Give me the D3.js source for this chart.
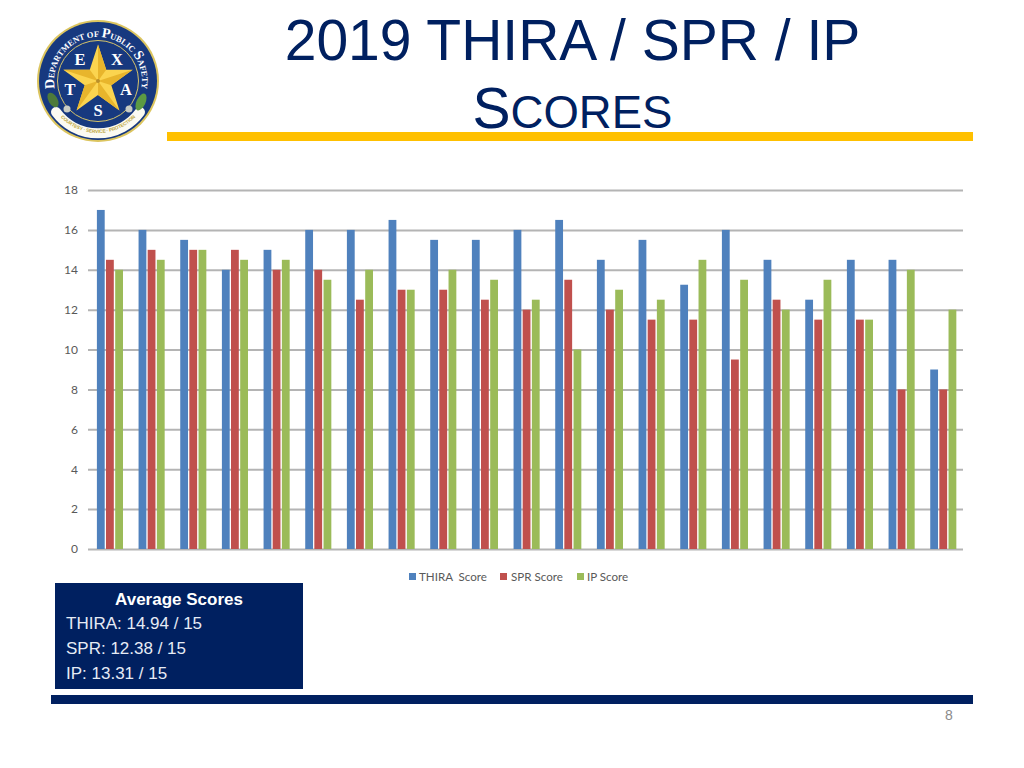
<!DOCTYPE html>
<html><head><meta charset="utf-8">
<script src="https://cdn.jsdelivr.net/npm/d3@7/dist/d3.min.js"></script>
<style>
html,body{margin:0;padding:0;background:#fff}
svg{display:block}
</style></head><body>
<svg id="c" width="1024" height="768"></svg>
<script>
const thira=[17,16,15.5,14,15,16,16,16.5,15.5,15.5,16,16.5,14.5,15.5,13.25,16,14.5,12.5,14.5,14.5,9];
const spr=[14.5,15,15,15,14,14,12.5,13,13,12.5,12,13.5,12,11.5,11.5,9.5,12.5,11.5,11.5,8,8];
const ip=[14,14.5,15,14.5,14.5,13.5,14,13,14,13.5,12.5,10,13,12.5,14.5,13.5,12,13.5,11.5,14,12];
const seriesNames=["THIRA  Score","SPR Score","IP Score"];
const seriesColors=["#4f81bd","#c0504d","#9bbb59"];
const yTicks=[0,2,4,6,8,10,12,14,16,18];
const averages=["THIRA: 14.94 / 15","SPR: 12.38 / 15","IP: 13.31 / 15"];
const navy="#002060", gold="#ffc000";

const svg=d3.select("#c");
const sans="'Liberation Sans',Arial,sans-serif", cal="Lato,'Open Sans',sans-serif", serif="'Liberation Serif',serif";

// title
const t=svg.append("g").attr("fill",navy).attr("font-family",sans).attr("text-anchor","middle");
t.append("text").attr("x",572.5).attr("y",60).attr("font-size",57).text("2019 THIRA / SPR / IP");
const t2=t.append("text").attr("x",572.5).attr("y",128).attr("font-size",57);
t2.append("tspan").text("S");
t2.append("tspan").attr("font-size",45.5).text("CORES");

// rules
svg.append("rect").attr("x",167).attr("y",132).attr("width",806).attr("height",9).attr("fill",gold);
svg.append("rect").attr("x",51).attr("y",695).attr("width",922).attr("height",9).attr("fill",navy);
svg.append("text").attr("x",949).attr("y",720).attr("text-anchor","middle").attr("font-family",sans)
  .attr("font-size",14).attr("fill","#8b8b8b").text("8");

// chart
const x=d3.scaleBand().domain(d3.range(thira.length)).range([88,963]);
const y=d3.scaleLinear().domain([0,18]).range([549,190]);

const axis=svg.append("g").attr("transform","translate(88,0)")
  .call(d3.axisLeft(y).tickValues(yTicks).tickSize(-875).tickPadding(10));
axis.select(".domain").remove();
axis.selectAll("line").attr("stroke","#b4b4b4").attr("stroke-width",2);
axis.selectAll("text").attr("font-family",cal).attr("font-size",12).attr("fill","#595959");

const barW=7.8, offs=[8.9,18,27.2];
[thira,spr,ip].forEach((vals,s)=>{
  svg.append("g").selectAll("rect").data(vals).join("rect")
    .attr("x",(d,i)=>x(i)+offs[s])
    .attr("width",barW)
    .attr("y",d=>y(d))
    .attr("height",d=>y(0)-y(d))
    .attr("fill",seriesColors[s]);
});

// legend
const lx=[409,500,577], tx=[419,511,587];
const leg=svg.append("g").attr("font-family",cal).attr("font-size",11.6).attr("fill","#595959");
seriesNames.forEach((n,i)=>{
  leg.append("rect").attr("x",lx[i]).attr("y",573).attr("width",7).attr("height",7).attr("fill",seriesColors[i]);
  leg.append("text").attr("x",tx[i]).attr("y",580.5).style("white-space","pre").text(n);
});

// average box
svg.append("rect").attr("x",55).attr("y",583).attr("width",248).attr("height",106).attr("fill",navy);
const box=svg.append("g").attr("font-family",sans).attr("font-size",17).attr("fill","#fff");
box.append("text").attr("x",179).attr("y",605).attr("text-anchor","middle").attr("font-weight","bold").text("Average Scores");
box.selectAll(".l").data(averages).join("text").attr("class","l").attr("x",66).attr("y",(d,i)=>629+i*25).attr("fill","#e6ebf5").text(d=>d);

// logo
const logo=svg.append("g").attr("transform","translate(98,81)");
logo.append("circle").attr("r",61).attr("fill","#dcc55f");
logo.append("circle").attr("r",59).attr("fill","#17397f");
logo.append("circle").attr("r",40.5).attr("fill","none").attr("stroke","#d6c46a").attr("stroke-width",1);
const starPts=(R,r)=>d3.range(10).map(i=>{const a=-Math.PI/2+i*Math.PI/5,q=i%2?r:R;return [q*Math.cos(a),q*Math.sin(a)];});
const pts=starPts(36.5,14);
logo.append("polygon").attr("points",pts.map(p=>p.join(",")).join(" ")).attr("fill","#fbd44f");
d3.range(0,10,2).forEach(i=>{
  const a=pts[i],b=pts[(i+1)%10];
  logo.append("polygon").attr("points",`0,0 ${a} ${b}`).attr("fill","#e8b52c");
});
logo.append("circle").attr("r",2).attr("fill","#b98f2a");
const ser=logo.append("g").attr("font-family",serif).attr("font-weight","bold").attr("font-size",16.5).attr("fill","#fff").attr("text-anchor","middle");
[["E",-18,-16],["X",19,-16],["T",-28,14],["A",28,14],["S",0,35]].forEach(([c,a,b])=>ser.append("text").attr("x",a).attr("y",b).text(c));

// ribbon, leaves, rosettes
logo.append("path").attr("d","M-42,31 A52,52 0 0 0 42,31").attr("fill","none").attr("stroke","#fbfaf2").attr("stroke-width",10).attr("stroke-linecap","round");
logo.append("ellipse").attr("cx",-45).attr("cy",19).attr("rx",4.5).attr("ry",8).attr("transform","rotate(-30 -45 19)").attr("fill","#4d7a3a");
logo.append("ellipse").attr("cx",43).attr("cy",21).attr("rx",4.5).attr("ry",9).attr("transform","rotate(25 43 21)").attr("fill","#5c9a43");
[-31,31].forEach(d=>logo.append("circle").attr("cx",d).attr("cy",28).attr("r",3.5).attr("fill","#c9ccc4"));

// lettering set one glyph at a time around an arc
function arcLetters(parts,radius,fromDeg,toDeg,inward,attrs){
  const g=logo.append("g").attr("text-anchor","middle");
  Object.entries(attrs).forEach(([k,v])=>g.attr(k,v));
  const items=[];
  parts.forEach(([str,size])=>[...str].forEach(ch=>{
    const el=g.append("text").attr("font-size",size).text(ch===" "?"\u00a0":ch);
    items.push({el,w:el.node().getComputedTextLength()});
  }));
  const total=d3.sum(items,d=>d.w);
  const arc=Math.abs(toDeg-fromDeg)*Math.PI/180*radius;
  const gap=(arc-total)/(items.length-1);
  let run=0;
  items.forEach(it=>{
    const f=(run+it.w/2)/arc;
    const deg=fromDeg+(toDeg-fromDeg)*f;
    run+=it.w+gap;
    const rot=inward?deg-180:deg;
    const px=radius*Math.sin(deg*Math.PI/180), py=-radius*Math.cos(deg*Math.PI/180);
    it.el.attr("transform",`translate(${px},${py}) rotate(${rot})`);
  });
}
arcLetters([["D",14],["EPARTMENT OF ",8.5],["P",14],["UBLIC ",8.5],["S",14],["AFETY",8.5]],44,-100,100,false,
  {"font-family":serif,"font-weight":"bold","fill":"#fff"});
arcLetters([["COURTESY · SERVICE · PROTECTION",4.8]],52,-134,-226,true,
  {"font-family":sans,"font-weight":"bold","fill":"#bda63f"});
</script>
</body></html>
